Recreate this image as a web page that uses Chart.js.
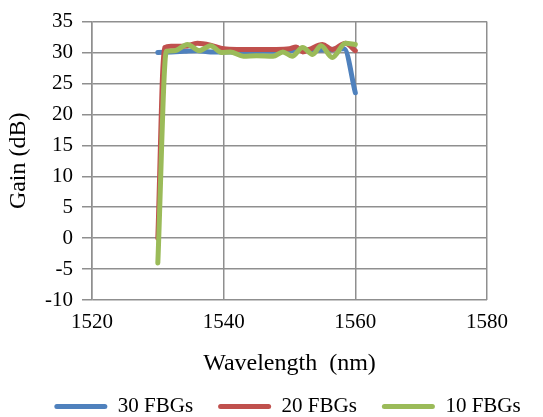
<!DOCTYPE html>
<html>
<head>
<meta charset="utf-8">
<script src="https://cdn.jsdelivr.net/npm/chart.js@4/dist/chart.umd.min.js"></script>
<style>
  html, body { margin: 0; padding: 0; background: #fff; }
  #wrap { width: 543px; height: 417px; }
</style>
</head>
<body>
<div id="wrap"><canvas id="gainChart"></canvas></div>
<script>
// Values
const xTicks = [1520, 1540, 1560, 1580];
const yTicks = [-10, -5, 0, 5, 10, 15, 20, 25, 30, 35];

const wl30 = [1530, 1532, 1534, 1536, 1538, 1540, 1542, 1544, 1546, 1548, 1550, 1552, 1554, 1556, 1558.3, 1560];
const gain30 = [30.0, 30.1, 30.2, 30.3, 30.1, 30.1, 30.1, 30.1, 30.2, 30.2, 30.3, 30.4, 30.4, 30.5, 30.6, 23.5];

const wl20 = [1530, 1531, 1532, 1534, 1536, 1538, 1540, 1542, 1544, 1546, 1548, 1550, 1551, 1552, 1553, 1555, 1556.5, 1558.5, 1560];
const gain20 = [0, 30.8, 31.0, 31.0, 31.5, 31.2, 30.6, 30.5, 30.5, 30.5, 30.5, 30.6, 30.9, 30.1, 30.5, 31.3, 30.5, 31.5, 30.3];

const wl10 = [1530, 1531.3, 1532.5, 1534.5, 1536.3, 1538, 1539.7, 1541, 1543, 1545, 1547.5, 1549, 1550.4, 1552, 1553.5, 1554.8, 1556.5, 1558.5, 1560];
const gain10 = [-4, 30.2, 30.3, 31.3, 30.3, 31.1, 30.0, 30.1, 29.4, 29.5, 29.4, 30.1, 29.4, 30.8, 29.7, 31.1, 29.2, 31.5, 31.3];

const toPoints = (xs, ys) => xs.map((x, i) => ({ x: x, y: ys[i] }));

const serif = "'Liberation Serif', 'Times New Roman', serif";
const gridColor = "#8f8f8f";

function series(label, xs, ys, color, order) {
  return {
    label: label,
    data: toPoints(xs, ys),
    borderColor: color,
    backgroundColor: color,
    borderWidth: 5,
    pointRadius: 0,
    showLine: true,
    cubicInterpolationMode: "monotone",
    borderCapStyle: "round",
    borderJoinStyle: "round",
    order: order,
  };
}

// legend sits a little right of centre and low in the picture
const legendShift = {
  id: "legendShift",
  afterLayout(chart) {
    const lg = chart.legend;
    lg.left += 16; lg.right += 16;
    lg.top += 10; lg.bottom += 10;
  },
};

new Chart(document.getElementById("gainChart"), {
  type: "scatter",
  data: {
    datasets: [
      series("30 FBGs", wl30, gain30, "#4F81BD", 3),
      series("20 FBGs", wl20, gain20, "#C0504D", 2),
      series("10 FBGs", wl10, gain10, "#9BBB59", 1),
    ],
  },
  plugins: [legendShift],
  options: {
    responsive: true,
    maintainAspectRatio: false,
    animation: false,
    layout: { padding: { left: 0, right: 0, top: 19, bottom: 0 } },
    plugins: {
      tooltip: { enabled: false },
      legend: {
        position: "bottom",
        labels: {
          color: "#000",
          font: { family: serif, size: 21 },
          boxWidth: 53,
          boxHeight: 5,
          useBorderRadius: true,
          borderRadius: 2.5,
          padding: 25,
          sort: (a, b) => a.datasetIndex - b.datasetIndex,
          generateLabels: (chart) =>
            Chart.defaults.plugins.legend.labels.generateLabels(chart).map((item) => {
              item.lineWidth = 0;
              item.fillStyle = item.strokeStyle;
              return item;
            }),
        },
      },
    },
    scales: {
      x: {
        type: "linear",
        min: 1520,
        max: 1580,
        afterBuildTicks: (scale) => { scale.ticks = xTicks.map((v) => ({ value: v })); },
        afterFit: (scale) => { scale.height = 61; },
        grid: { color: gridColor, lineWidth: 1.5, drawTicks: false },
        border: { display: false },
        ticks: {
          color: "#000",
          font: { family: serif, size: 21 },
          padding: 10,
          autoSkip: false,
          maxRotation: 0,
          callback: (v) => String(v),
        },
        title: {
          display: true,
          text: "Wavelength  (nm)",
          color: "#000",
          font: { family: serif, size: 24 },
          padding: { top: 6, bottom: -17 },
        },
      },
      y: {
        min: -10,
        max: 35,
        afterBuildTicks: (scale) => { scale.ticks = yTicks.map((v) => ({ value: v })); },
        afterFit: (scale) => { scale.width = 92; },
        grid: { color: gridColor, lineWidth: 1.5, tickLength: 10 },
        border: { color: gridColor, width: 1.5 },
        ticks: {
          color: "#000",
          font: { family: serif, size: 21 },
          padding: 9,
          autoSkip: false,
          callback: (v) => String(v),
        },
        title: {
          display: true,
          text: "Gain (dB)",
          color: "#000",
          font: { family: serif, size: 24 },
          padding: { top: 4, bottom: 2 },
        },
      },
      // empty right margin, same width as the reference's white strip
      yRight: {
        position: "right",
        afterFit: (scale) => { scale.width = 56; },
        grid: { display: false },
        border: { display: false },
        ticks: { display: false },
      },
    },
  },
});
</script>
</body>
</html>
